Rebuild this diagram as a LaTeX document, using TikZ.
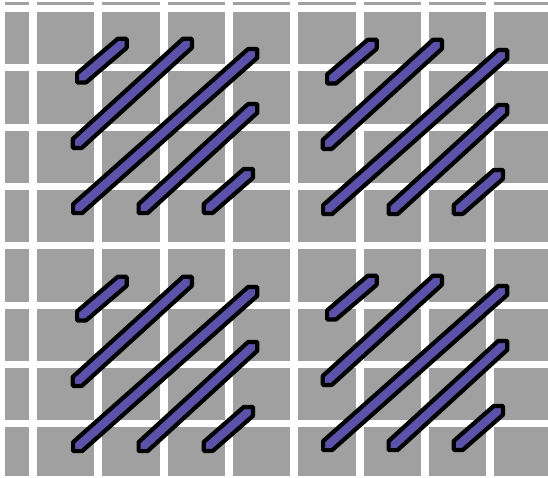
\documentclass[tikz,border=0pt]{standalone}
\usepackage{tikz}
\definecolor{canvasgrey}{RGB}{160,160,160}
\definecolor{threadblue}{RGB}{92,82,170}
\newcommand{\stitchline}[4]{%
  \filldraw[stitch] (#1-4.5,#2-4.5) -- (#1-4.5,#2+4.5) -- (#1+4.5,#2+4.5) -- (#3+4.5,#4+4.5) -- (#3+4.5,#4-4.5) -- (#3-4.5,#4-4.5) -- cycle;}

\begin{document}
\begin{tikzpicture}[x=1pt, y=-1pt,
    mesh/.style={draw=white, line width=8pt},
    stitch/.style={fill=threadblue, draw=black, line width=4.2pt, line join=bevel}]
  \useasboundingbox (0,0) rectangle (548,477);
  \fill[white] (0,0) rectangle (548,477);
  \fill[canvasgrey] (5,2) rectangle (548,475.5);
  \foreach \i in {0,...,7} {
    \draw[mesh] ({33+65.3*\i},0) -- ({33+65.3*\i},477);
    \draw[mesh, line width=7pt] (0,{8.5+59.3*\i}) -- (548,{8.5+59.3*\i});
  }
  \foreach \dx/\dy in {0/0, 250/1, 0/238, 250/237} {
    \begin{scope}[shift={(\dx,\dy)}]
      \stitchline{81.6}{77.9}{122.2}{43.3}
      \stitchline{77.3}{143.4}{187.4}{43.3}
      \stitchline{77.6}{208.6}{252.7}{53.4}
      \stitchline{143.1}{208.6}{252.7}{108.4}
      \stitchline{208.3}{208.4}{248.4}{173.4}
    \end{scope}
  }
\end{tikzpicture}
\end{document}
